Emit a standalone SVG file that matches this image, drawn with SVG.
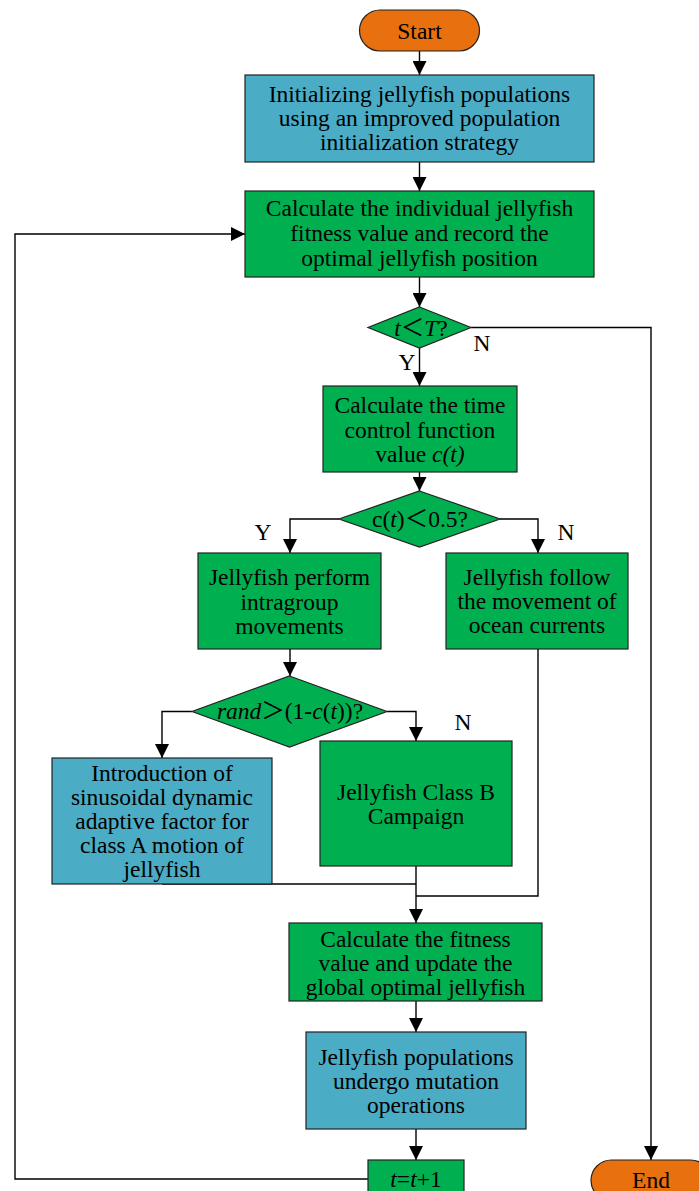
<svg xmlns="http://www.w3.org/2000/svg" width="699" height="1191" viewBox="0 0 699 1191">
<style>
text{font-family:"Liberation Serif","Times New Roman",serif;font-size:23.5px;fill:#000;text-anchor:middle}
.g{fill:#00B050;stroke:#222;stroke-width:1.2}
.b{fill:#4BACC6;stroke:#222;stroke-width:1.2}
.o{fill:#E8700E;stroke:#222;stroke-width:1.2}
.c{fill:none;stroke:#000;stroke-width:1.4}
.i{font-style:italic}
.w{font-family:"Liberation Serif","Noto Sans CJK SC",serif}
</style>
<defs>
<marker id="ah" markerUnits="userSpaceOnUse" markerWidth="14" markerHeight="14" viewBox="0 0 14 14" refX="14" refY="7" orient="auto">
<path d="M0,0 L14,7 L0,14 Z" fill="#000"/>
</marker>
</defs>
<g id="connectors">
<path class="c" d="M419.5,51 V75" marker-end="url(#ah)"/>
<path class="c" d="M419.5,162 V191" marker-end="url(#ah)"/>
<path class="c" d="M419.5,277 V307" marker-end="url(#ah)"/>
<path class="c" d="M419.5,348 V386" marker-end="url(#ah)"/>
<path class="c" d="M471,327.5 H651 V1160" marker-end="url(#ah)"/>
<path class="c" d="M419.5,472 V491" marker-end="url(#ah)"/>
<path class="c" d="M339,519 H290 V553" marker-end="url(#ah)"/>
<path class="c" d="M500,519 H538 V553" marker-end="url(#ah)"/>
<path class="c" d="M290,649 V676" marker-end="url(#ah)"/>
<path class="c" d="M192,711.5 H162 V758" marker-end="url(#ah)"/>
<path class="c" d="M387,711.5 H416 V741" marker-end="url(#ah)"/>
<path class="c" d="M162,884 H416"/>
<path class="c" d="M416,866 V923" marker-end="url(#ah)"/>
<path class="c" d="M538,649 V896 H416"/>
<path class="c" d="M416,1001 V1032" marker-end="url(#ah)"/>
<path class="c" d="M416,1129 V1160" marker-end="url(#ah)"/>
<path class="c" d="M368,1179 H15 V234 H245" marker-end="url(#ah)"/>
</g>
<g id="labels">
<text x="482" y="351">N</text>
<text x="407" y="370">Y</text>
<text x="263" y="540">Y</text>
<text x="566" y="540">N</text>
<text x="463" y="730">N</text>
</g>
<g id="start">
<rect class="o" x="359.5" y="10" width="120" height="41" rx="20.5"/>
<text x="419.5" y="39">Start</text>
</g>
<g id="init">
<rect class="b" x="245" y="75" width="349" height="87"/>
<text x="419.5" y="102">Initializing jellyfish populations</text>
<text x="419.5" y="126">using an improved population</text>
<text x="419.5" y="150">initialization strategy</text>
</g>
<g id="fitness1">
<rect class="g" x="245" y="191" width="349" height="86"/>
<text x="419.5" y="216">Calculate the individual jellyfish</text>
<text x="419.5" y="241">fitness value and record the</text>
<text x="419.5" y="266">optimal jellyfish position</text>
</g>
<g id="cond1">
<polygon class="g" points="419.5,307 471,327.5 419.5,348 368,327.5"/>
<text x="421" y="336"><tspan class="i">t</tspan><tspan class="w">＜</tspan><tspan class="i">T</tspan>?</text>
</g>
<g id="timectrl">
<rect class="g" x="323" y="386" width="194" height="86"/>
<text x="420" y="413">Calculate the time</text>
<text x="420" y="438">control function</text>
<text x="420" y="462">value <tspan class="i">c(t)</tspan></text>
</g>
<g id="cond2">
<polygon class="g" points="419.5,491 500,519 419.5,547 339,519"/>
<text x="420" y="527">c(<tspan class="i">t</tspan>)<tspan class="w">＜</tspan>0.5?</text>
</g>
<g id="intragroup">
<rect class="g" x="198" y="553" width="183" height="96"/>
<text x="289.5" y="585">Jellyfish perform</text>
<text x="289.5" y="610">intragroup</text>
<text x="289.5" y="634">movements</text>
</g>
<g id="ocean">
<rect class="g" x="446" y="553" width="182" height="96"/>
<text x="537" y="585">Jellyfish follow</text>
<text x="537" y="609">the movement of</text>
<text x="537" y="633">ocean currents</text>
</g>
<g id="cond3">
<polygon class="g" points="289.5,676 387,711.5 289.5,747 192,711.5"/>
<text x="290" y="719"><tspan class="i">rand</tspan><tspan class="w">＞</tspan>(1-<tspan class="i">c</tspan>(<tspan class="i">t</tspan>))?</text>
</g>
<g id="classA">
<rect class="b" x="52" y="758" width="220" height="126"/>
<text x="162" y="781">Introduction of</text>
<text x="162" y="805">sinusoidal dynamic</text>
<text x="162" y="829">adaptive factor for</text>
<text x="162" y="853">class A motion of</text>
<text x="162" y="877">jellyfish</text>
</g>
<g id="classB">
<rect class="g" x="320" y="741" width="192" height="125"/>
<text x="416" y="800">Jellyfish Class B</text>
<text x="416" y="824">Campaign</text>
</g>
<g id="fitness2">
<rect class="g" x="289" y="923" width="253" height="78"/>
<text x="415.5" y="947">Calculate the fitness</text>
<text x="415.5" y="971">value and update the</text>
<text x="415.5" y="995">global optimal jellyfish</text>
</g>
<g id="mutation">
<rect class="b" x="306" y="1032" width="220" height="97"/>
<text x="416" y="1065">Jellyfish populations</text>
<text x="416" y="1089">undergo mutation</text>
<text x="416" y="1113">operations</text>
</g>
<g id="increment">
<rect class="g" x="368" y="1160" width="96" height="40"/>
<text x="416" y="1187"><tspan class="i">t</tspan>=<tspan class="i">t</tspan>+1</text>
</g>
<g id="end">
<rect class="o" x="591" y="1160" width="120" height="41" rx="20.5"/>
<text x="651" y="1188">End</text>
</g>
</svg>
